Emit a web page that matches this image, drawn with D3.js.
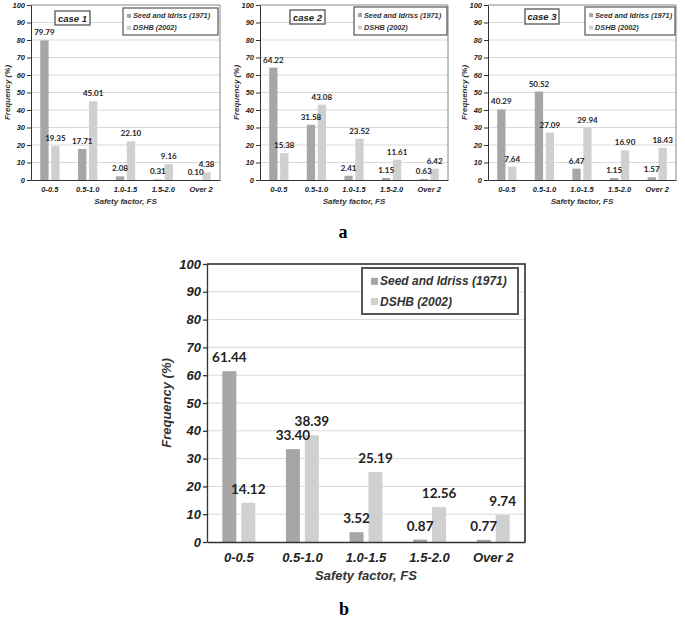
<!DOCTYPE html>
<html><head><meta charset="utf-8">
<script src="https://cdn.jsdelivr.net/npm/d3@7"></script>
<style>body{margin:0;background:#fff}svg{display:block}</style>
</head><body>
<svg id="c" width="685" height="618"></svg>
<script>
const categories = ["0-0.5","0.5-1.0","1.0-1.5","1.5-2.0","Over 2"];
const seriesNames = ["Seed and Idriss (1971)","DSHB (2002)"];
const case1Seed = [79.79,17.71,2.08,0.31,0.10];
const case1DSHB = [19.35,45.01,22.10,9.16,4.38];
const case2Seed = [64.22,31.58,2.41,1.15,0.63];
const case2DSHB = [15.38,43.08,23.52,11.61,6.42];
const case3Seed = [40.29,50.52,6.47,1.15,1.57];
const case3DSHB = [7.64,27.09,29.94,16.90,18.43];
const allSeed = [61.44,33.40,3.52,0.87,0.77];
const allDSHB = [14.12,38.39,25.19,12.56,9.74];
const yTicks = [0,10,20,30,40,50,60,70,80,90,100];
const caseLabels = ["case 1","case 2","case 3"];

const colors = ["#a6a6a6","#d0d0d0"];
const svg = d3.select("#c");
const AX = "'Liberation Sans', Arial, sans-serif";
const VF = "Lato, 'Open Sans', sans-serif";

function panel(o){
  const g = svg.append("g");
  const x = d3.scaleBand().domain(categories).range([o.x0,o.x1]);
  const y = d3.scaleLinear().domain([0,100]).range([o.y1,o.y0]);
  const bw = x.bandwidth()*0.22, gap = x.bandwidth()*o.gap;
  g.append("g").selectAll("line").data(yTicks.slice(1,-1)).join("line")
    .attr("x1",o.x0).attr("x2",o.x1).attr("y1",d=>y(d)).attr("y2",d=>y(d))
    .attr("stroke","#d9d9d9").attr("stroke-width",1);
  g.append("path").attr("d",`M${o.x0},${y(100)}H${o.x1}V${y(0)}`)
    .attr("fill","none").attr("stroke",o.frame).attr("stroke-width",o.frameW);
  const series = [o.seed,o.dshb];
  const barsG = g.append("g"), lblG = g.append("g");
  series.forEach((vals,si)=>{
    const off = si===0 ? -gap/2-bw : gap/2;
    barsG.append("g").selectAll("rect").data(vals).join("rect")
      .attr("x",(d,i)=>x.bandwidth()/2 + x(categories[i]) + off)
      .attr("y",d=>y(d)).attr("width",bw).attr("height",d=>y(0)-y(d))
      .attr("fill",colors[si]);
    lblG.append("g").selectAll("text").data(vals).join("text")
      .attr("x",(d,i)=>x.bandwidth()/2 + x(categories[i]) + off + bw/2)
      .attr("y",d=>y(d)-o.lblOff)
      .attr("text-anchor","middle").attr("font-family",VF).attr("font-weight","bold")
      .attr("font-size",o.vfs).attr("fill","#222")
      .text(d=>d.toFixed(2));
  });
  const ya = d3.axisLeft(y).tickValues(yTicks).tickSize(o.tick).tickSizeOuter(0).tickPadding(2);
  const yg = g.append("g").attr("transform",`translate(${o.x0},0)`).call(ya);
  yg.select(".domain").attr("stroke","#333").attr("stroke-width",o.axW);
  yg.selectAll(".tick line").attr("stroke","#333").attr("stroke-width",o.axW);
  yg.selectAll("text").attr("font-family",AX).attr("font-weight","bold").attr("font-style","italic")
    .attr("font-size",o.tfs).attr("fill","#222");
  const xa = d3.axisBottom(x).tickSize(0).tickPadding(o.xpad);
  const xg = g.append("g").attr("transform",`translate(0,${o.y1})`).call(xa);
  xg.select(".domain").attr("stroke","#333").attr("stroke-width",o.axW);
  xg.selectAll("text").attr("font-family",AX).attr("font-weight","bold").attr("font-style","italic")
    .attr("font-size",o.tfs).attr("fill","#222");
  g.append("text").attr("x",(o.x0+o.x1)/2).attr("y",o.xtY).attr("text-anchor","middle")
    .attr("font-family",AX).attr("font-weight","bold").attr("font-style","italic")
    .attr("font-size",o.atfs).attr("fill","#333").text("Safety factor, FS");
  g.append("text").attr("transform",`translate(${o.x0+o.ytX},${(o.y0+o.y1)/2}) rotate(-90)`)
    .attr("text-anchor","middle").attr("dominant-baseline","central")
    .attr("font-family",AX).attr("font-weight","bold").attr("font-style","italic")
    .attr("font-size",o.atfs).attr("fill","#333").text("Frequency (%)");
  const L = o.leg;
  g.append("rect").attr("x",L.x).attr("y",L.y).attr("width",L.w).attr("height",L.h)
    .attr("fill","#fff").attr("stroke","#555").attr("stroke-width",L.sw);
  seriesNames.forEach((s,i)=>{
    const cy = L.y + L.h*(i===0?0.29:0.73);
    g.append("rect").attr("x",L.x+L.sq0).attr("y",cy-L.sq/2).attr("width",L.sq).attr("height",L.sq).attr("fill",colors[i]);
    g.append("text").attr("x",L.x+L.tx).attr("y",cy).attr("dominant-baseline","central")
      .attr("font-family",AX).attr("font-weight","bold").attr("font-style","italic")
      .attr("font-size",L.fs).attr("fill","#333").text(s);
  });
  if(o.caseLbl){
    const C = o.caseLbl;
    g.append("rect").attr("x",C.x).attr("y",C.y).attr("width",C.w).attr("height",C.h)
      .attr("fill","#fff").attr("stroke","#555").attr("stroke-width",1.3);
    g.append("text").attr("x",C.x+C.w/2).attr("y",C.y+C.h/2).attr("text-anchor","middle")
      .attr("dominant-baseline","central").attr("font-family",AX).attr("font-weight","bold")
      .attr("font-style","italic").attr("font-size",9.5).attr("fill","#222").text(C.t);
  }
}

const smallBase = {y0:5,y1:180,gap:0.07,lblOff:5,vfs:8,tick:4,axW:1,tfs:7.5,xpad:7,xtY:204,atfs:8,ytX:-24,frame:"#888",frameW:1};
const smalls = [
  {x0:31,x1:220,seed:case1Seed,dshb:case1DSHB,leg:{x:123,y:8,w:95,h:27},cl:{x:55,y:11,w:35,h:14}},
  {x0:260,x1:448,seed:case2Seed,dshb:case2DSHB,leg:{x:354,y:7,w:93,h:28},cl:{x:290,y:10,w:35,h:14}},
  {x0:488,x1:676,seed:case3Seed,dshb:case3DSHB,leg:{x:585,y:7,w:90,h:28},cl:{x:525,y:9,w:34,h:15}}
];
smalls.forEach((s,i)=>{
  panel(Object.assign({},smallBase,{x0:s.x0,x1:s.x1,seed:s.seed,dshb:s.dshb,
    leg:Object.assign({sw:1.2,sq0:4,sq:4,tx:10,fs:7.3},s.leg),
    caseLbl:Object.assign({t:caseLabels[i]},s.cl)}));
});

panel({x0:207,x1:525,y0:264,y1:542,gap:0.078,lblOff:9,vfs:13.5,tick:4,axW:1.3,tfs:13,xpad:11,xtY:580,atfs:13,ytX:-41,frame:"#222",frameW:1.5,
  seed:allSeed,dshb:allDSHB,leg:{x:362,y:268,w:156,h:46,sw:2,sq0:9,sq:7,tx:18,fs:12}});

svg.append("text").attr("x",343).attr("y",238).attr("text-anchor","middle")
  .attr("font-family","'Liberation Serif', 'Times New Roman', serif").attr("font-weight","bold")
  .attr("font-size",18).text("a");
svg.append("text").attr("x",344).attr("y",615).attr("text-anchor","middle")
  .attr("font-family","'Liberation Serif', 'Times New Roman', serif").attr("font-weight","bold")
  .attr("font-size",18).text("b");
</script>
</body></html>
